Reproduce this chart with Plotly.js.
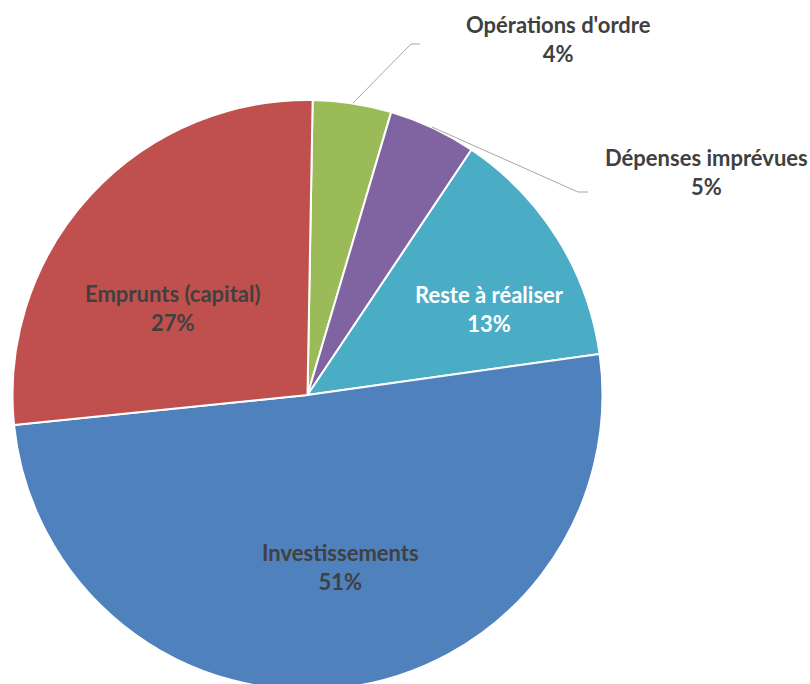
<!DOCTYPE html>
<html><head><meta charset="utf-8">
<script src="https://cdn.plot.ly/plotly-3.0.1.min.js"></script>
<style>html,body{margin:0;padding:0;overflow:hidden;background:#fff}</style>
</head><body><div id="chart" style="width:810px;height:700px"></div>
<script>
// Data
const labels = ["Opérations d'ordre", "Dépenses imprévues", "Reste à réaliser", "Investissements", "Emprunts (capital)"];
const values = [4.3, 4.8, 13.4, 50.6, 26.9];
const colors = ["#9BBB59", "#8064A2", "#4BACC6", "#4F81BD", "#C0504D"];

// Layout helpers (pixel positions -> paper coords)
const W = 810, H = 700;
const cx = 307.5, cy = 395, R = 295;
const px = x => x / W;
const py = y => 1 - y / H;

const labelPos = [[558, 39], [706, 172], [489, 309], [340, 567], [173, 308]];
const labelColors = ["#404040", "#404040", "#FFFFFF", "#404040", "#404040"];

const total = values.reduce((a, b) => a + b, 0);
const annotations = labels.map((l, i) => ({
  x: px(labelPos[i][0]), y: py(labelPos[i][1]), xref: 'paper', yref: 'paper',
  xanchor: 'center', yanchor: 'middle', showarrow: false,
  text: l + '<br>' + Math.round(values[i] / total * 100) + '%',
  font: {family: 'Lato, "Open Sans", sans-serif', size: 22, color: labelColors[i], weight: 'bold'}
}));

const leader = (pts) => ({
  type: 'path', xref: 'paper', yref: 'paper',
  path: 'M ' + pts.map(p => px(p[0]) + ',' + py(p[1])).join(' L '),
  line: {color: '#A6A6A6', width: 1}
});

const shapes = [
  leader([[353, 103], [411, 44], [420, 44]]),
  leader([[432, 127], [578, 192], [588, 192]])
];

Plotly.newPlot('chart', [{
  type: 'pie',
  labels: labels,
  values: values,
  sort: false,
  direction: 'clockwise',
  rotation: 1,
  marker: {colors: colors, line: {color: '#FFFFFF', width: 2}},
  textinfo: 'none',
  hoverinfo: 'label+percent',
  domain: {x: [px(cx - R), px(cx + R)], y: [py(cy + R), py(cy - R)]}
}], {
  width: W, height: H,
  margin: {l: 0, r: 0, t: 0, b: 0},
  showlegend: false,
  paper_bgcolor: '#FFFFFF',
  annotations: annotations,
  shapes: shapes
}, {displayModeBar: false, staticPlot: true});
</script></body></html>
